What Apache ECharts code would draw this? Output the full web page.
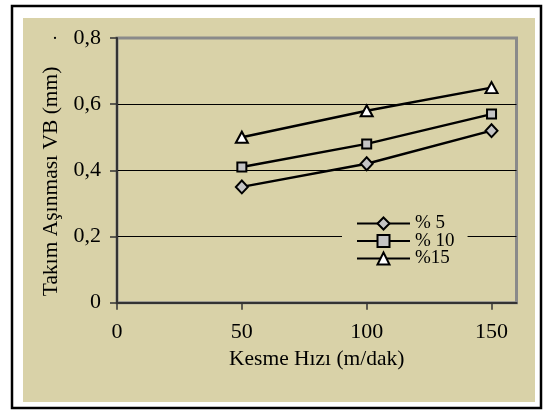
<!DOCTYPE html>
<html>
<head>
<meta charset="utf-8">
<script src="https://cdn.jsdelivr.net/npm/echarts@6/dist/echarts.min.js"></script>
<style>
html,body{margin:0;padding:0;background:#fff;}
#c{width:547px;height:410px;}
</style>
</head>
<body>
<div id="c"></div>
<script>
// ---- data ----
const speeds = [50, 100, 150];
const seriesNames = ['% 5', '% 10', '%15'];
const wear5 = [0.35, 0.42, 0.52];
const wear10 = [0.41, 0.48, 0.57];
const wear15 = [0.50, 0.58, 0.65];
const xTicks = [0, 50, 100, 150];
const yTicks = [0, 0.2, 0.4, 0.6, 0.8];
const yTickLabels = ['0', '0,2', '0,4', '0,6', '0,8'];
const xTitle = 'Kesme Hızı (m/dak)';
const yTitle = 'Takım Aşınması VB (mm)';

const FONT = '"Liberation Serif", "Times New Roman", serif';
const TAN = '#d9d2a8';

function pairs(vals) { return speeds.map((s, i) => [s, vals[i]]); }

const chart = echarts.init(document.getElementById('c'), null, {renderer: 'canvas'});
chart.setOption({
  backgroundColor: '#ffffff',
  animation: false,
  textStyle: {fontFamily: FONT, color: '#000'},
  graphic: [
    {type: 'rect', z: -10, shape: {x: 12, y: 6, width: 529, height: 402},
     style: {fill: '#ffffff', stroke: '#000', lineWidth: 2.5}},
    {type: 'rect', z: -9, shape: {x: 23, y: 18, width: 512, height: 384},
     style: {fill: TAN}},
    {type: 'text', x: 52, y: 30, style: {text: '·', font: '18px ' + FONT, fill: '#000'}}
  ],
  grid: {
    left: 117, top: 38, right: 30.5, bottom: 107.3,
    show: true, backgroundColor: TAN, borderColor: '#8a8a8a', borderWidth: 3
  },
  legend: {
    orient: 'vertical', left: 342, top: 208,
    padding: [6, 13, 6, 14],
    backgroundColor: TAN,
    itemWidth: 53, itemHeight: 15, itemGap: -1.5,
    textStyle: {fontFamily: FONT, fontSize: 19, color: '#000'},
    data: seriesNames
  },
  xAxis: {
    type: 'value', min: 0, max: 160, interval: 50,
    name: xTitle, nameLocation: 'middle', nameGap: 43,
    nameTextStyle: {fontFamily: FONT, fontSize: 21.5, color: '#000'},
    axisLine: {show: true, lineStyle: {color: '#333', width: 2}},
    axisTick: {show: true, length: 7, customValues: xTicks, lineStyle: {color: '#333', width: 1.5}},
    axisLabel: {customValues: xTicks, margin: 19, fontFamily: FONT, fontSize: 22, color: '#000'},
    splitLine: {show: false}
  },
  yAxis: {
    type: 'value', min: 0, max: 0.8, interval: 0.2,
    name: yTitle, nameLocation: 'middle', nameGap: 52, nameRotate: 90,
    nameTextStyle: {fontFamily: FONT, fontSize: 21.5, color: '#000', padding: [0, 22, 0, 0]},
    axisLine: {show: true, lineStyle: {color: '#333', width: 2}},
    axisTick: {show: true, length: 7, lineStyle: {color: '#333', width: 1.5}},
    axisLabel: {
      margin: 16, fontFamily: FONT, fontSize: 22, color: '#000',
      formatter: function (v) {
        const i = yTicks.findIndex(t => Math.abs(t - v) < 1e-9);
        return i >= 0 ? yTickLabels[i] : '';
      }
    },
    splitLine: {show: true, lineStyle: {color: ['rgba(0,0,0,0)', '#000', '#000', '#000', 'rgba(0,0,0,0)'], width: 1}}
  },
  series: [
    {name: seriesNames[0], type: 'line', data: pairs(wear5), symbol: 'diamond', symbolSize: [12, 13],
     lineStyle: {color: '#000', width: 2.5}, itemStyle: {color: '#c4c4c4', borderColor: '#000', borderWidth: 2}},
    {name: seriesNames[1], type: 'line', data: pairs(wear10), symbol: 'rect', symbolSize: 9,
     lineStyle: {color: '#000', width: 2.5}, itemStyle: {color: '#c4c4c4', borderColor: '#000', borderWidth: 2}},
    {name: seriesNames[2], type: 'line', data: pairs(wear15), symbol: 'triangle', symbolSize: [12, 11],
     lineStyle: {color: '#000', width: 2.5}, itemStyle: {color: '#ffffff', borderColor: '#000', borderWidth: 2}}
  ]
});
</script>
</body>
</html>
